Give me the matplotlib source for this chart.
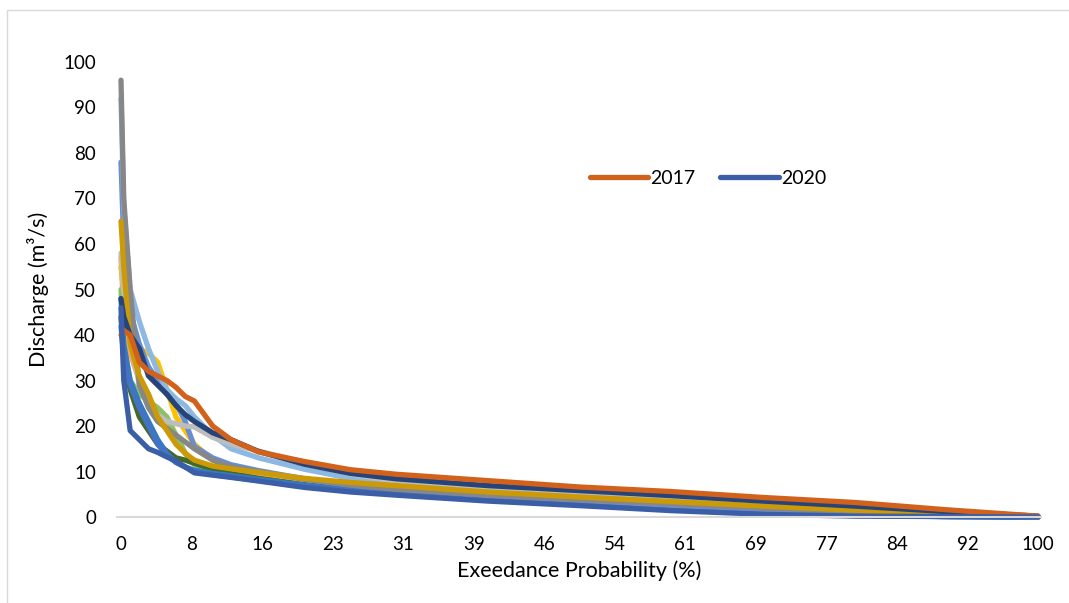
import numpy as np
import matplotlib
matplotlib.use("Agg")
import matplotlib.pyplot as plt
from matplotlib.patches import Rectangle

plt.rcParams['font.family'] = ['Lato', 'DejaVu Sans']

# exceedance probability (%) where each curve was read
exceed = [0, 0.3, 1, 2, 3, 4, 5, 6, 7, 8, 10, 12, 15, 20, 25, 30, 40, 50, 60, 70, 80, 90, 100]

# discharge (m3/s) per year
q_light_orange = [57, 45, 36, 30, 26, 22, 20, 18, 14, 12, 10.8, 9.9, 9.0, 7.5, 6.4, 5.6, 4.4, 3.4, 2.4, 1.5, 0.8, 0.3, 0]
q_green = [50, 38, 30, 27, 25.5, 24, 22, 18, 14, 11.5, 10, 9.0, 8.2, 6.9, 5.8, 5.2, 3.9, 2.9, 1.8, 1.0, 0.4, 0.1, 0]
q_dark_green = [44, 35, 28, 22, 19, 16, 14.5, 13, 12.5, 11.8, 10.5, 9.5, 8.5, 7.1, 6.0, 5.3, 4.1, 3.1, 2.0, 1.2, 0.5, 0.2, 0]
q_yellow = [55, 50, 42, 37, 36, 34, 28, 22, 19, 16, 12.5, 11, 9.8, 8.3, 7.2, 6.3, 5.0, 3.9, 2.9, 2.0, 1.2, 0.5, 0]
q_mid_blue = [78, 60, 45, 38, 33, 30, 27, 25, 21, 15.5, 13, 11.5, 10.2, 8.4, 7.1, 6.2, 4.8, 3.7, 2.6, 1.7, 0.9, 0.4, 0]
q_light_blue = [92, 68, 50, 43, 37, 32, 28, 26, 24.5, 22, 18, 15, 13, 10.5, 8.5, 7.3, 5.8, 4.6, 3.5, 2.5, 1.5, 0.7, 0]
q_sky_blue = [48, 38, 30, 25, 21, 17, 14, 12, 11, 10.3, 9.6, 9.1, 8.3, 7.0, 6.0, 5.4, 4.1, 3.0, 1.9, 1.0, 0.4, 0.1, 0]
q_blue = [42, 35, 29, 24, 20, 16, 13.5, 12, 11, 10, 9.3, 8.8, 8.0, 6.7, 5.7, 5.0, 3.7, 2.7, 1.6, 0.8, 0.3, 0.1, 0]
q_light_gray = [58, 50, 40, 29, 25, 22.5, 21, 20.5, 20, 19.8, 17.5, 16, 14.5, 12, 9.5, 7.8, 6.6, 5.5, 4.5, 3.4, 2.2, 1.0, 0.1]
q_gold = [65, 55, 38, 31, 27, 22, 19, 16, 14, 12.5, 11.2, 10.6, 9.8, 8.5, 7.6, 6.9, 5.5, 4.4, 3.4, 2.4, 1.5, 0.6, 0.1]
q_navy = [48, 44, 40, 37, 31, 29, 27, 24.5, 22.5, 21, 18.5, 17, 14.4, 11.6, 9.6, 8.4, 6.9, 5.8, 4.7, 3.5, 2.4, 1.2, 0.2]
q_gray = [96, 70, 50, 29, 24, 21, 19.5, 18, 16.5, 15, 12.5, 11, 10, 8.3, 7.0, 6.1, 4.8, 3.8, 2.9, 2.0, 1.2, 0.6, 0]
q_2017 = [40, 41, 40, 34, 32, 31, 30, 28.5, 26.5, 25.5, 20, 17, 14.3, 12.2, 10.4, 9.4, 8.0, 6.6, 5.6, 4.3, 3.2, 1.6, 0.2]
q_2020 = [46, 30, 19, 17, 15, 14.2, 13.2, 12.3, 11, 9.7, 9.2, 8.7, 7.9, 6.5, 5.5, 4.8, 3.5, 2.5, 1.4, 0.6, 0.2, 0.1, 0]

tick_labels = ["0", "8", "16", "23", "31", "39", "46", "54", "61", "69", "77", "84", "92", "100"]

fig = plt.figure(figsize=(10.69, 6.03), dpi=100)
ax = fig.add_axes([121 / 1069, 0.1426, 917 / 1069, 0.7546])

# unlabelled years first, legend years on top
others = [
    (q_light_orange, '#F4A36A'),
    (q_green, '#8CC168'),
    (q_dark_green, '#43682B'),
    (q_yellow, '#FFC000'),
    (q_sky_blue, '#2E7CC4'),
    (q_blue, '#4472C4'),
    (q_mid_blue, '#698ED0'),
    (q_light_blue, '#8DB8E2'),
    (q_light_gray, '#BDBDBD'),
    (q_gray, '#878787'),
    (q_gold, '#CC9A06'),
    (q_navy, '#264478'),
]
for q, c in others:
    ax.plot(exceed, q, color=c, lw=3.8, solid_capstyle='round',
            solid_joinstyle='round', clip_on=False)

ax.plot(exceed, q_2017, color='#D2621B', lw=3.8, solid_capstyle='round',
        clip_on=False, label='2017')
ax.plot(exceed, q_2020, color='#3B5EA6', lw=3.8, solid_capstyle='round',
        clip_on=False, label='2020')

ax.set_xlim(0, 100)
ax.set_ylim(0, 100)
ax.set_xticks(np.linspace(0, 100, len(tick_labels)))
ax.set_xticklabels(tick_labels)
ax.set_yticks(np.arange(0, 101, 10))
ax.tick_params(length=0, labelsize=13.5, colors='#000000')
ax.tick_params(axis='y', pad=18)
ax.tick_params(axis='x', pad=14)

for s in ['top', 'right', 'left']:
    ax.spines[s].set_visible(False)
ax.spines['bottom'].set_color('#D9D9D9')
ax.spines['bottom'].set_linewidth(1.5)
ax.spines['bottom'].set_bounds(-0.4, 100.3)

ax.set_xlabel("Exeedance Probability (%)", fontsize=15.5, labelpad=5)
ax.set_ylabel("Discharge (m\u00b3/s)", fontsize=15.5, labelpad=10)

ax.legend(loc='center', bbox_to_anchor=(0.64, 0.745), ncol=2, frameon=False,
          fontsize=14, handlelength=3.0, handletextpad=0.1, columnspacing=1.3)

fig.patches.append(Rectangle((7 / 1069, -0.05), 1.1, 0.05 + (603 - 10) / 603,
                             transform=fig.transFigure, fill=False,
                             edgecolor='#D9D9D9', lw=1))

fig.savefig("out.png", dpi=100)
